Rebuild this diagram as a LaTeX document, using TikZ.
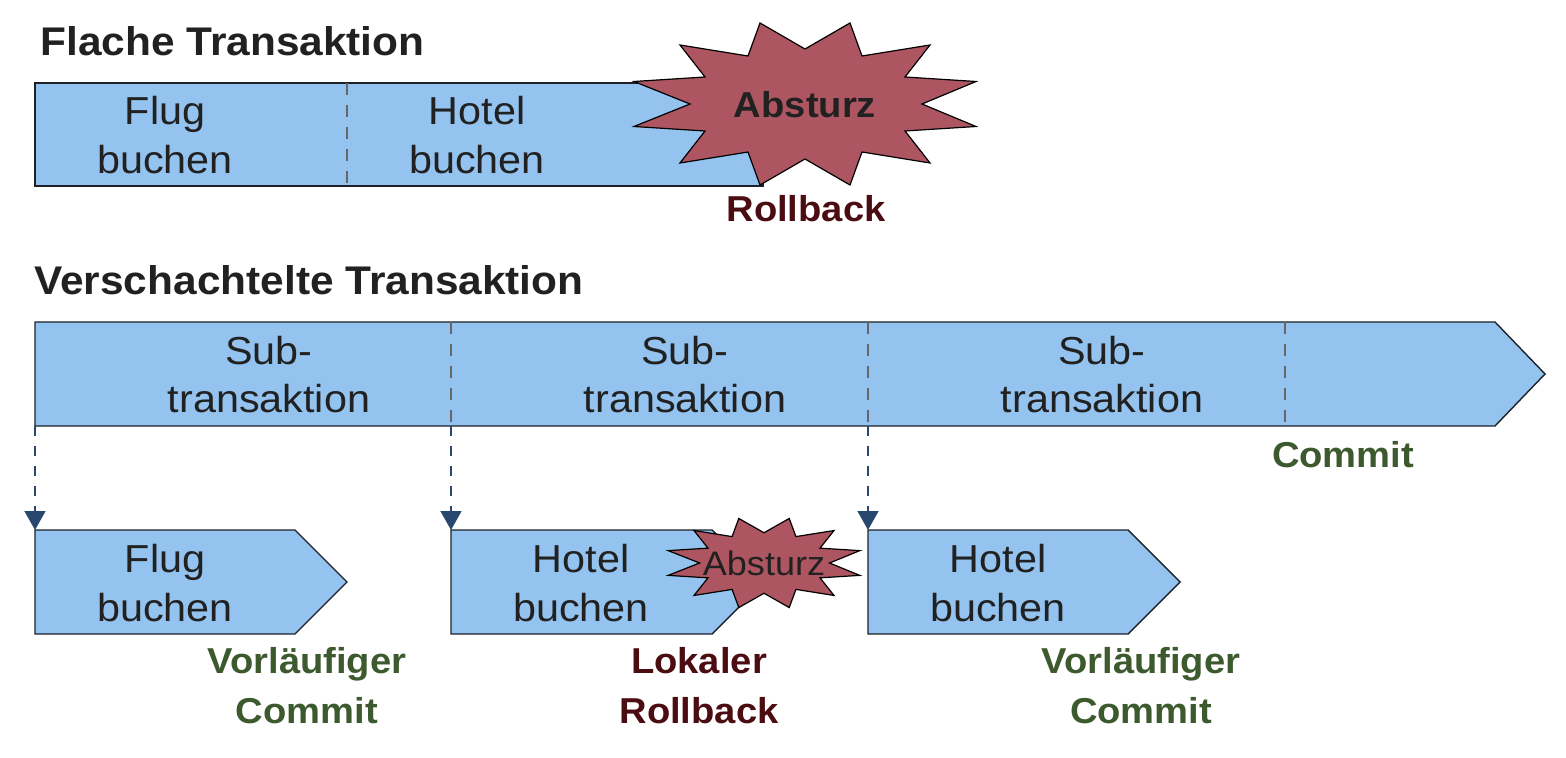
\documentclass[tikz,border=0pt]{standalone}
\usepackage{fontspec}
\setmainfont{Liberation Sans}[FakeStretch=1.06]
\usetikzlibrary{arrows.meta}
\definecolor{boxblue}{HTML}{93C3EE}
\definecolor{boxline}{HTML}{1E2228}
\definecolor{starred}{HTML}{AD5661}
\definecolor{txt}{HTML}{212121}
\definecolor{okgreen}{HTML}{3D5A2E}
\definecolor{badred}{HTML}{4B0C12}
\definecolor{divgray}{HTML}{666666}
\definecolor{connblue}{HTML}{284870}
\tikzset{
  txbox/.style={fill=boxblue, draw=boxline, line width=0.7pt, line join=miter},
  divider/.style={draw=divgray, line width=0.75pt, dash pattern=on 6pt off 5pt},
  conn/.style={draw=connblue, line width=0.75pt, dash pattern=on 5pt off 5pt,
    -{Triangle[width=10.5pt,length=9.5pt,fill=connblue,sep=0pt]}, shorten >=0pt},
  boom/.style={fill=starred, draw=black, line width=0.6pt, line join=miter},
  boxtext/.style={anchor=base, align=center, inner sep=0pt, text=txt,
    font=\fontsize{19.5}{24.5}\selectfont},
  heading/.style={anchor=base west, inner sep=0pt, text=txt,
    font=\fontsize{20}{24}\selectfont\bfseries},
  oklabel/.style={anchor=base, align=center, inner sep=0pt, text=okgreen,
    font=\fontsize{18}{25}\selectfont\bfseries},
  badlabel/.style={anchor=base, align=center, inner sep=0pt, text=badred,
    font=\fontsize{18}{25}\selectfont\bfseries},
  burst/.pic={\path[pic actions] (-171,-22.5) -- (-100,-27) -- (-125,-59) -- (-57,-48)
     -- (-45,-81) -- (0,-55) -- (45,-81) -- (57,-48) -- (125,-59) -- (100,-27)
     -- (171,-22.5) -- (117,0) -- (171,22.5) -- (100,27) -- (125,59) -- (57,48)
     -- (45,81) -- (0,55) -- (-45,81) -- (-57,48) -- (-125,59) -- (-100,27)
     -- (-171,22.5) -- (-115,0) -- cycle;}
}
\begin{document}
\begin{tikzpicture}[x=0.5pt,y=-0.5pt]
\useasboundingbox[fill=white] (0,0) rectangle (1566,758);

% ---------- Flache Transaktion ----------
\node[heading] (h1) at (40,56) {Flache Transaktion};
\path[txbox] (35,83) rectangle (763,186);
\coordinate (fd1a) at (347,83);
\coordinate (fd1b) at (347,186);
\draw[divider] (fd1a) -- (fd1b);
\node[boxtext] (ff) at (165,174) {Flug\\buchen};
\node[boxtext] (fh) at (477,174) {Hotel\\buchen};
\pic[boom] at (805,104) {burst};
\node[anchor=base, inner sep=0pt, text=txt, font=\fontsize{18}{22}\selectfont\bfseries] (crash1) at (805,118) {Absturz};
\node[badlabel] (rb1) at (806,222) {Rollback};

% ---------- Verschachtelte Transaktion ----------
\node[heading] (h2) at (34,295) {Verschachtelte Transaktion};
\path[txbox] (35,322) -- (1495,322) -- (1545,374) -- (1495,426) -- (35,426) -- cycle;
\foreach \i/\x in {1/451,2/868,3/1285}{
  \coordinate (vd\i a) at (\x,322);
  \coordinate (vd\i b) at (\x,426);
  \draw[divider] (vd\i a) -- (vd\i b);
}
\node[boxtext] (st1) at (269,413) {Sub-\\transaktion};
\node[boxtext] (st2) at (685,413) {Sub-\\transaktion};
\node[boxtext] (st3) at (1102,413) {Sub-\\transaktion};
\node[oklabel] (cm) at (1343,467) {Commit};

% connectors
\coordinate (p1) at (35,426);  \coordinate (c1) at (35,530);
\coordinate (p2) at (451,426); \coordinate (c2) at (451,530);
\coordinate (p3) at (868,426); \coordinate (c3) at (868,530);
\draw[conn] (p1) -- (c1);
\draw[conn] (p2) -- (c2);
\draw[conn] (p3) -- (c3);

% child transactions
\path[txbox] (35,530) -- (295,530) -- (347,582) -- (295,634) -- (35,634) -- cycle;
\node[boxtext] (b1) at (165,621) {Flug\\buchen};
\path[txbox] (451,530) -- (712,530) -- (764,582) -- (712,634) -- (451,634) -- cycle;
\node[boxtext] (b2) at (581,621) {Hotel\\buchen};
\pic[boom, xscale=0.56, yscale=0.55] at (764,563) {burst};
\node[anchor=base, inner sep=0pt, text=txt, font=\fontsize{17}{20}\selectfont] (crash2) at (764,575) {Absturz};
\path[txbox] (868,530) -- (1128,530) -- (1180,582) -- (1128,634) -- (868,634) -- cycle;
\node[boxtext] (b3) at (998,621) {Hotel\\buchen};

\node[oklabel] (vc1) at (307,723) {Vorläufiger\\Commit};
\node[badlabel] (lr) at (699,723) {Lokaler\\Rollback};
\node[oklabel] (vc2) at (1141,723) {Vorläufiger\\Commit};
\end{tikzpicture}
\end{document}
